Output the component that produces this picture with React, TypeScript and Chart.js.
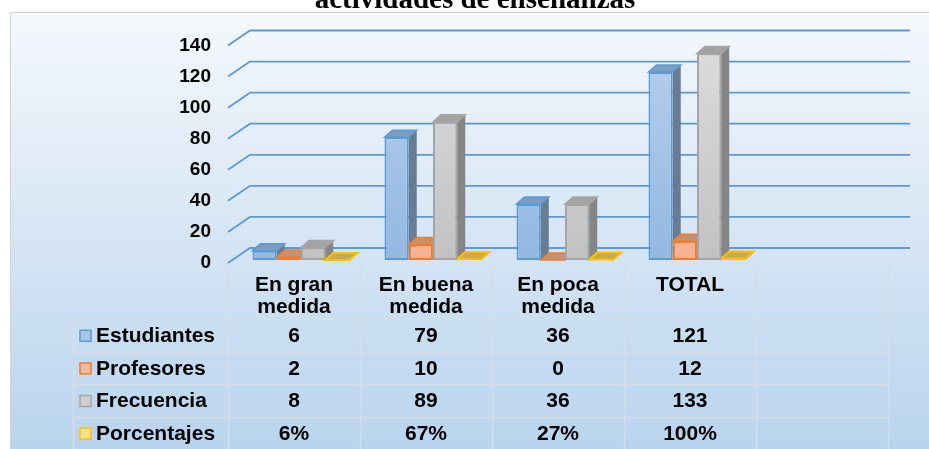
import React, { useEffect, useRef } from "react";
import { Chart, registerables } from "chart.js";

Chart.register(...registerables);

const TITLE = "actividades de enseñanzas";
const categories: string[][] = [
  ["En gran", "medida"],
  ["En buena", "medida"],
  ["En poca", "medida"],
  ["TOTAL"],
  [""],
];
const seriesNames = ["Estudiantes", "Profesores", "Frecuencia", "Porcentajes"];
const estudiantes = [6, 79, 36, 121];
const profesores = [2, 10, 0, 12];
const frecuencia = [8, 89, 36, 133];
const porcentajes = [0.06, 0.67, 0.27, 1.0];
const yTicks = [0, 20, 40, 60, 80, 100, 120, 140];

const seriesValues = [estudiantes, profesores, frecuencia, porcentajes];
const tableText = (si: number, v: number) =>
  si === 3 ? Math.round(v * 100) + "%" : String(v);

const STYLES = [
  { front: ["#b6cfeb", "#93b8e2"], border: "#5b9bd5", side: "#687c93", top: "#7e9bc0", box: "#a9c5e8" },
  { front: ["#fac8b0", "#f5b08f"], border: "#ed7d31", side: "#b9714a", top: "#c8906f", box: "#f7b89a" },
  { front: ["#dcdcdc", "#c2c2c2"], border: "#a5a5a5", side: "#858585", top: "#a3a3a3", box: "#d0d0d0" },
  { front: ["#ffe08a", "#ffd35c"], border: "#ffc000", side: "#b8922a", top: "#c9a94d", box: "#ffe08a" },
];

const SHIFT = 7; // group offset of the 3D plot relative to table columns
const DX = 8;
const DY = -7;
const FONT = "'Liberation Sans', Arial, sans-serif";

const excelPlugin = {
  id: "excel3d",
  beforeDraw(chart: any) {
    const { ctx, width, height } = chart;
    const xs = chart.scales.x;
    ctx.save();
    ctx.fillStyle = "#ffffff";
    ctx.fillRect(0, 0, width, height);
    const g = ctx.createLinearGradient(0, 12, 0, height);
    g.addColorStop(0, "#f5f8fc");
    g.addColorStop(1, "#b9d4ee");
    ctx.fillStyle = g;
    ctx.fillRect(10, 12, width - 10, height - 12);
    ctx.strokeStyle = "#d4d4d4";
    ctx.lineWidth = 1;
    ctx.strokeRect(10.5, 12.5, width, height);

    // title (partially clipped at the top like the reference)
    ctx.fillStyle = "#000";
    ctx.font = "bold 29px 'Liberation Serif', 'Times New Roman', serif";
    ctx.textAlign = "center";
    ctx.textBaseline = "alphabetic";
    ctx.fillText(TITLE, 475, 8);

    // data table
    const n = categories.length;
    const colW = xs.width / n;
    const x0 = xs.left - SHIFT;
    const legendLeft = 73;
    const headTop = 263;
    const tableTop = 319;
    const rowH = 32.6;
    ctx.strokeStyle = "#d6dde6";
    ctx.lineWidth = 1.5;
    ctx.beginPath();
    for (let i = 0; i <= n; i++) {
      const x = Math.round(x0 + i * colW) + 0.5;
      ctx.moveTo(x, headTop);
      ctx.lineTo(x, height);
    }
    ctx.moveTo(legendLeft + 0.5, tableTop);
    ctx.lineTo(legendLeft + 0.5, height);
    for (let r = 0; r < seriesNames.length; r++) {
      const y = Math.round(tableTop + r * rowH) + 0.5;
      ctx.moveTo(legendLeft, y);
      ctx.lineTo(x0 + n * colW, y);
    }
    ctx.stroke();

    ctx.fillStyle = "#000";
    ctx.font = `bold 21px ${FONT}`;
    ctx.textAlign = "center";
    ctx.textBaseline = "middle";
    categories.forEach((lines, i) => {
      const cx = x0 + (i + 0.5) * colW;
      lines.forEach((ln, k) => ctx.fillText(ln, cx, 285 + k * 22));
    });
    seriesNames.forEach((name, r) => {
      const cy = tableTop + (r + 0.5) * rowH + 1;
      const st = STYLES[r];
      ctx.fillStyle = st.box;
      ctx.fillRect(80, cy - 6, 11, 11);
      ctx.strokeStyle = st.border;
      ctx.lineWidth = 1.5;
      ctx.strokeRect(80, cy - 6, 11, 11);
      ctx.fillStyle = "#000";
      ctx.textAlign = "left";
      ctx.fillText(name, 96, cy);
      ctx.textAlign = "center";
      seriesValues[r].forEach((v, i) => {
        ctx.fillText(tableText(r, v), x0 + (i + 0.5) * colW, cy);
      });
    });
    ctx.restore();
  },
  beforeDatasetsDraw(chart: any) {
    const { ctx } = chart;
    const xs = chart.scales.x;
    const ys = chart.scales.y;
    ctx.save();
    // 3D gridlines: front diagonal + back wall
    ctx.strokeStyle = "#5b9bd5";
    ctx.lineWidth = 1.8;
    ctx.beginPath();
    yTicks.forEach((v) => {
      const yb = ys.getPixelForValue(v);
      ctx.moveTo(xs.left - SHIFT, yb + 3);
      ctx.lineTo(xs.left + 15, yb - 12);
      ctx.lineTo(xs.right + 15, yb - 12);
    });
    ctx.stroke();

    // side and top faces, left to right
    const metas = [0, 1, 2, 3].map((i) => chart.getDatasetMeta(i));
    const count = estudiantes.length;
    for (let j = 0; j < count; j++) {
      metas.forEach((meta: any, si: number) => {
        const el = meta.data[j];
        if (!el) return;
        const { x, y, base, width } = el.getProps(["x", "y", "base", "width"], true);
        const st = STYLES[si];
        const l = x - width / 2;
        const r = x + width / 2;
        const t = Math.min(y, base);
        const b = Math.max(y, base);
        ctx.lineWidth = 1;
        ctx.strokeStyle = st.border;
        // side
        ctx.beginPath();
        ctx.moveTo(r, t);
        ctx.lineTo(r + DX, t + DY);
        ctx.lineTo(r + DX, b + DY);
        ctx.lineTo(r, b);
        ctx.closePath();
        ctx.fillStyle = st.side;
        ctx.fill();
        // top
        ctx.beginPath();
        ctx.moveTo(l, t);
        ctx.lineTo(l + DX, t + DY);
        ctx.lineTo(r + DX, t + DY);
        ctx.lineTo(r, t);
        ctx.closePath();
        ctx.fillStyle = st.top;
        ctx.fill();
        ctx.lineWidth = si === 3 ? 2 : 1.5;
        ctx.stroke();
      });
    }
    ctx.restore();
  },
};

function frontGradient(si: number) {
  return (c: any) => {
    const chart = c.chart;
    const area = chart.chartArea;
    if (!area) return STYLES[si].front[0];
    const g = chart.ctx.createLinearGradient(0, area.top, 0, area.bottom);
    g.addColorStop(0, STYLES[si].front[0]);
    g.addColorStop(1, STYLES[si].front[1]);
    return g;
  };
}

export default function App() {
  const ref = useRef<HTMLCanvasElement | null>(null);
  useEffect(() => {
    document.body.style.margin = "0";
    if (!ref.current) return;
    const chart = new Chart(ref.current, {
      type: "bar",
      data: {
        labels: categories,
        datasets: seriesValues.map((vals, si) => ({
          label: seriesNames[si],
          data: vals,
          backgroundColor: frontGradient(si),
          borderColor: STYLES[si].border,
          borderWidth: 2,
          borderSkipped: false,
          barPercentage: 1,
          categoryPercentage: 0.735,
        })),
      },
      options: {
        animation: false,
        responsive: false,
        devicePixelRatio: 1,
        layout: { padding: { left: 0, right: 34, top: 42.5, bottom: 189 } },
        plugins: { legend: { display: false }, title: { display: false }, tooltip: { enabled: false } },
        scales: {
          x: { display: false },
          y: {
            min: 0,
            max: 140,
            afterFit: (s: any) => {
              s.width = 235;
            },
            afterBuildTicks: (s: any) => {
              s.ticks = yTicks.map((v) => ({ value: v }));
            },
            grid: { display: false, drawTicks: false },
            border: { display: false },
            ticks: {
              color: "#000",
              padding: 24,
              labelOffset: 3,
              font: { family: FONT, size: 19, weight: "bold" },
            },
          },
        },
      },
      plugins: [excelPlugin],
    });
    return () => chart.destroy();
  }, []);
  return (
    <div style={{ width: 929, height: 449 }}>
      <canvas ref={ref} width={929} height={449} style={{ display: "block" }} />
    </div>
  );
}
